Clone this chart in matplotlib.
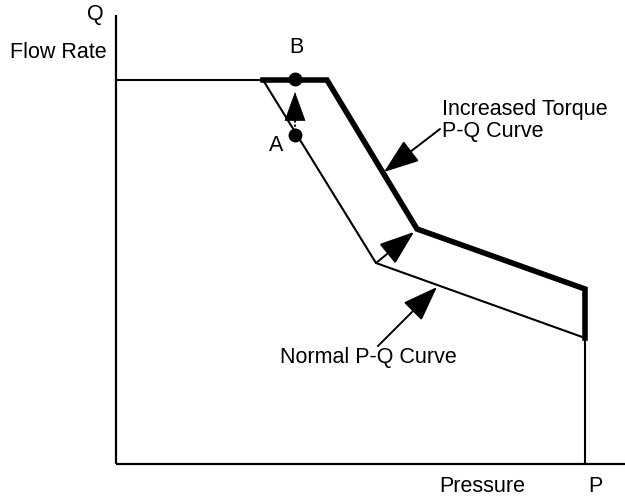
import matplotlib.pyplot as plt

plt.rcParams['font.family'] = ['Liberation Sans', 'DejaVu Sans']

# schematic P-Q curves (arbitrary pressure / flow units, origin at axis corner)
normal_p = [0, 147, 260, 469, 469]
normal_q = [384, 384, 201, 126, 0]
incr_p = [147, 211, 301, 469, 469]
incr_q = [384, 384, 235, 175, 126]

# operating points
point_a = (179, 329)
point_b = (179, 385)

fig = plt.figure(figsize=(6.25, 4.98), dpi=100)
ax = fig.add_axes([0, 0, 1, 1])
ax.set_xlim(-116, 509)
ax.set_ylim(-34, 464)
ax.axis('off')

# axes lines
ax.plot([0, 0], [0, 449], color='black', lw=1.6, solid_capstyle='butt')
ax.plot([0, 509], [0, 0], color='black', lw=1.6, solid_capstyle='butt')

# curves
ax.plot(normal_p, normal_q, color='black', lw=1.5, solid_joinstyle='miter')
ax.plot(incr_p, incr_q, color='black', lw=4, solid_joinstyle='miter')

# A -> B move
ax.plot([point_a[0], point_a[0]], [point_a[1], point_b[1] - 30],
        color='black', lw=1.5, ls=(0, (1, 1)))
ax.annotate('', xy=(point_b[0], point_b[1] - 13), xytext=(point_b[0], point_b[1] - 31),
            arrowprops=dict(arrowstyle='-|>,head_length=1.1,head_width=0.4',
                            color='black', lw=0.5, mutation_scale=18,
                            shrinkA=0, shrinkB=0))
ax.plot(*point_a, 'o', color='black', ms=9)
ax.plot(*point_b, 'o', color='black', ms=9)

arrow = dict(arrowstyle='-|>,head_length=1.1,head_width=0.4', color='black',
             lw=1.4, mutation_scale=20, shrinkA=0, shrinkB=0)
# normal knee -> increased knee
ax.annotate('', xy=(298, 232), xytext=(260, 201), arrowprops=arrow)
# labels with pointers
ax.annotate('', xy=(268, 292), xytext=(324, 335), arrowprops=arrow)
ax.annotate('', xy=(321, 177), xytext=(262, 118), arrowprops=arrow)

fs = 15.5
ax.text(-12, 450, 'Q', fontsize=fs, ha='right', va='center')
ax.text(-58, 412, 'Flow Rate', fontsize=fs, ha='center', va='center')
ax.text(366, -22, 'Pressure', fontsize=fs, ha='center', va='center')
ax.text(479, -22, 'P', fontsize=fs, ha='center', va='center')
ax.text(167, 319, 'A', fontsize=fs, ha='right', va='center')
ax.text(180, 417, 'B', fontsize=fs, ha='center', va='center')
ax.text(326, 355, 'Increased Torque', fontsize=fs, ha='left', va='center')
ax.text(326, 333, 'P-Q Curve', fontsize=fs, ha='left', va='center')
ax.text(164, 107, 'Normal P-Q Curve', fontsize=fs, ha='left', va='center')

plt.savefig('out.png')
